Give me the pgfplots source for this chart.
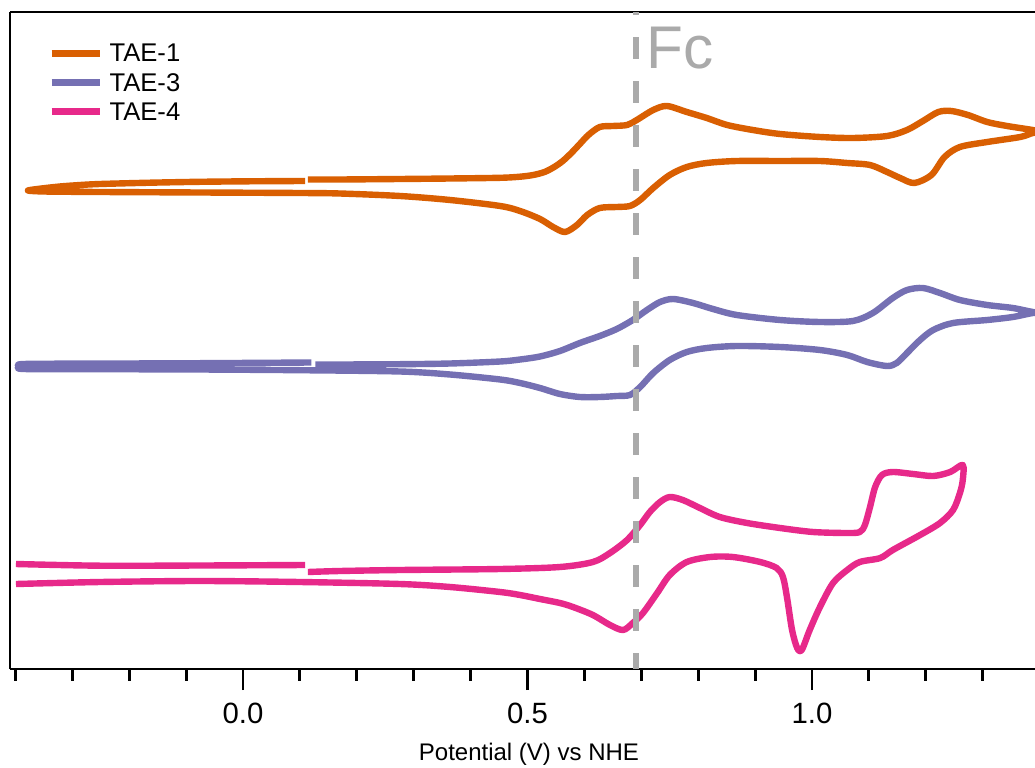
\documentclass[border=0pt]{standalone}
\usepackage{fontspec}
\setmainfont{Liberation Sans}
\usepackage{pgfplots}
\pgfplotsset{compat=1.18}
\definecolor{tae1}{RGB}{217,95,2}
\definecolor{tae3}{RGB}{117,112,179}
\definecolor{tae4}{RGB}{231,41,138}
\definecolor{fcgray}{RGB}{170,170,170}
\begin{document}
\begin{tikzpicture}
\begin{axis}[
  scale only axis, width=384.375pt, height=246.375pt,
  xmin=-0.4095, xmax=1.392, ymin=0, ymax=657,
  axis x line=box, axis y line=left,
  axis line style={-, line width=1.1pt},
  every outer x axis line/.append style={-},
  every outer y axis line/.append style={-},
  ytick=\empty,
  xtick={-0.5,0,0.5,1,1.5},
  minor x tick num=4,
  xtick pos=lower,
  tick align=outside,
  major tick length=7.9pt, minor tick length=4.4pt,
  every tick/.style={black, line width=1.1pt},
  xticklabel style={/pgf/number format/.cd, fixed, fixed zerofill, precision=1, /tikz/.cd, font=\fontsize{11}{13}\selectfont, yshift=-1.4pt},
  /pgf/number format/assume math mode=true,
  xlabel={Potential (V) vs NHE},
  xlabel style={font=\fontsize{9}{11}\selectfont, at={(axis description cs:0.5063,0)}, anchor=base, yshift=-34.4pt},
  unbounded coords=jump,
  clip=true,
  legend style={at={(axis description cs:0,1)}, anchor=north west, xshift=14.25pt, yshift=-11.55pt, draw=none, fill=none, inner sep=0pt, font=\fontsize{9.6}{11}\selectfont, row sep=3.4pt, column sep=2.5pt, nodes={inner sep=0pt, text height=7pt, text depth=0.5pt}},
  legend cell align=left,
  legend image code/.code={\draw[#1, line width=2.4pt] (0pt,0pt) -- (18pt,0pt);},
]
\addplot[tae1, line width=2.4pt, line join=round, smooth, tension=0.5] coordinates {
(0.114,489.5) (0.170,489.5) (0.276,490) (0.364,490.5) (0.452,491.2) (0.487,492.3) (0.510,494) (0.530,497) (0.547,502) (0.562,508) (0.577,516) (0.592,525) (0.607,534) (0.627,542) (0.650,543) (0.675,544) (0.692,549) (0.721,559) (0.745,563) (0.780,557) (0.815,551) (0.851,544) (0.896,539) (0.944,535) (1.014,532) (1.072,531) (1.132,533) (1.167,539) (1.195,548) (1.222,557) (1.245,558) (1.274,554) (1.308,547) (1.343,543) (1.388,539) (1.405,537) (1.388,536) (1.366,532) (1.308,527) (1.260,522) (1.233,512) (1.210,494) (1.180,486) (1.155,491) (1.132,497) (1.102,504) (1.062,506) (1.014,508) (0.944,508) (0.868,508) (0.815,506) (0.780,502) (0.750,494) (0.721,481) (0.698,469) (0.680,463) (0.657,462) (0.627,461) (0.605,454) (0.587,444) (0.566,437) (0.545,442) (0.522,450) (0.487,458) (0.452,463) (0.364,469) (0.276,473) (0.170,475.5) (0.100,476) (-0.076,476.5) (-0.251,477) (-0.322,477.3) (-0.357,477.6) (-0.378,478.5) (-0.357,480.3) (-0.322,482.5) (-0.286,484) (-0.251,485) (-0.163,486.3) (-0.076,487.2) (0.012,487.7) (0.109,488)
};
\addlegendentry{TAE-1}
\addplot[tae3, line width=2.4pt, line join=round, smooth, tension=0.5] coordinates {
(0.127,304.5) (0.170,304.5) (0.276,304.8) (0.364,305.5) (0.452,307.5) (0.487,309.5) (0.522,312.5) (0.557,318) (0.592,326) (0.627,333) (0.657,340) (0.685,349) (0.710,359) (0.733,367) (0.756,370) (0.791,366) (0.826,360) (0.868,354) (0.944,349) (1.014,347) (1.072,348) (1.107,356) (1.142,371) (1.167,379) (1.195,381) (1.225,376) (1.260,369) (1.308,364) (1.353,361) (1.388,357) (1.405,356) (1.388,356) (1.353,352) (1.308,349) (1.248,346) (1.213,339) (1.190,329) (1.167,316) (1.149,306) (1.132,303) (1.097,307) (1.062,314) (1.014,319) (0.944,322) (0.868,323) (0.815,321) (0.780,317) (0.750,309) (0.721,296) (0.698,282) (0.680,274) (0.657,273) (0.627,272) (0.592,272) (0.557,275) (0.522,281) (0.487,286) (0.452,289.5) (0.364,294.5) (0.276,297.5) (0.100,298.8) (-0.076,299.5) (-0.251,299.8) (-0.385,300) (-0.392,302.5) (-0.385,305) (-0.251,305.4) (-0.076,305.8) (0.120,306.5)
};
\addlegendentry{TAE-3}
\addplot[tae4, line width=2.4pt, line join=round, smooth, tension=0.5] coordinates {
(0.114,97) (0.170,98) (0.276,99) (0.452,100) (0.557,102) (0.615,107) (0.645,116) (0.675,129) (0.698,144) (0.715,157) (0.733,167) (0.750,172) (0.773,169) (0.803,161) (0.838,152) (0.886,146) (0.944,141) (1.002,137) (1.062,136) (1.084,137) (1.093,144) (1.102,162) (1.111,182) (1.123,194) (1.142,197) (1.178,195) (1.213,193) (1.243,197) (1.265,204) (1.265,189) (1.260,176) (1.248,159) (1.225,146) (1.190,134) (1.142,119) (1.120,111) (1.084,107) (1.062,99) (1.037,86) (1.014,62) (0.996,39) (0.982,19) (0.974,21) (0.965,39) (0.956,72) (0.949,92) (0.938,101) (0.909,107) (0.861,112) (0.821,112) (0.780,107) (0.750,94) (0.728,76) (0.703,56) (0.685,46) (0.668,39) (0.645,44) (0.615,54) (0.580,62) (0.557,66) (0.522,70) (0.487,74) (0.452,77) (0.364,82) (0.276,85) (0.100,87) (-0.076,88) (-0.251,87) (-0.399,85) (-0.399,nan) (-0.399,105) (-0.251,103.3) (-0.076,103.5) (0.109,104)
};
\addlegendentry{TAE-4}
\addplot[forget plot, fcgray, line width=2.25pt, dash pattern=on 8.25pt off 8.25pt, dash phase=2.25pt, sharp plot] coordinates {(0.691,0) (0.691,657)};
\node[anchor=base west, inner sep=0pt, text=fcgray, font=\fontsize{22.6}{26}\selectfont] at (axis cs:0.709,600.7) {Fc};
\coordinate (bl) at (rel axis cs:0,0);
\coordinate (tr) at (rel axis cs:1,1);
\end{axis}
\pgfresetboundingbox
\path[use as bounding box] ([xshift=-3.75pt,yshift=-36.75pt]bl) rectangle ([yshift=4.5pt]tr);
\end{tikzpicture}
\end{document}
